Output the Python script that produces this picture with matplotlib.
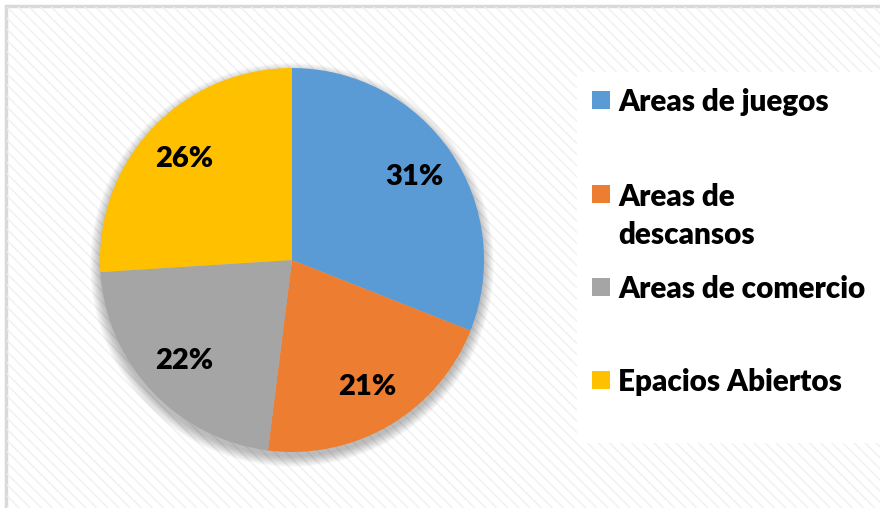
import matplotlib
matplotlib.use("Agg")
import matplotlib.pyplot as plt
from matplotlib.patches import Rectangle, Circle

categories = ["Areas de juegos", "Areas de\ndescansos", "Areas de comercio", "Epacios Abiertos"]
values = [31, 21, 22, 26]
colors = ["#5B9BD5", "#ED7D31", "#A5A5A5", "#FFC000"]

W, H = 880, 508
fig = plt.figure(figsize=(W / 100, H / 100), dpi=100)
fig.patch.set_facecolor("white")

FONT = dict(family="Lato", fontweight="heavy", color="black")

# background with diagonal pattern and border
bg = fig.add_axes([0, 0, 1, 1])
bg.set_xlim(0, W)
bg.set_ylim(H, 0)
bg.axis("off")
bg.add_patch(Rectangle((6, 6), W, H, facecolor="white", edgecolor="#d9d9d9", linewidth=2.5))
bg.add_patch(Rectangle((7, 7), W, H, facecolor="none", edgecolor="#f0f0f0", linewidth=0, hatch="\\\\\\"))
# legend white box
bg.add_patch(Rectangle((577, 72), W - 577 + 5, 443 - 72, facecolor="white", edgecolor="none"))

# pie axes: center (292,260), radius 192 px
cx, cy, r = 292, 260, 192
lim = 1.2
half = lim * r
ax = fig.add_axes([(cx - half) / W, (H - cy - half) / H, 2 * half / W, 2 * half / H])
ax.set_aspect("equal")
ax.axis("off")

# soft shadow
for i in range(14):
    rr = 1.0 + 0.004 * i
    ax.add_patch(Circle((0.0, -0.025), rr, facecolor="black", edgecolor="none", alpha=0.018, zorder=0))

wedges, texts, autotexts = ax.pie(
    values, colors=colors, startangle=90, counterclock=False,
    autopct=lambda p: f"{p:.0f}%", pctdistance=0.77, radius=1.0,
    wedgeprops=dict(linewidth=0), frame=False,
    textprops=dict(fontsize=21, **FONT),
)
ax.set_xlim(-lim, lim)
ax.set_ylim(-lim, lim)

# legend
handle_y = [100, 194, 287, 380]
for lab, col, hy in zip(categories, colors, handle_y):
    bg.add_patch(Rectangle((592, hy - 9), 18, 18, facecolor=col, edgecolor="none"))
    for k, ln in enumerate(lab.split("\n")):
        bg.text(618, hy + k * 39, ln, fontsize=21.3, va="center_baseline", ha="left", **FONT)

fig.savefig("out.png", dpi=100)
